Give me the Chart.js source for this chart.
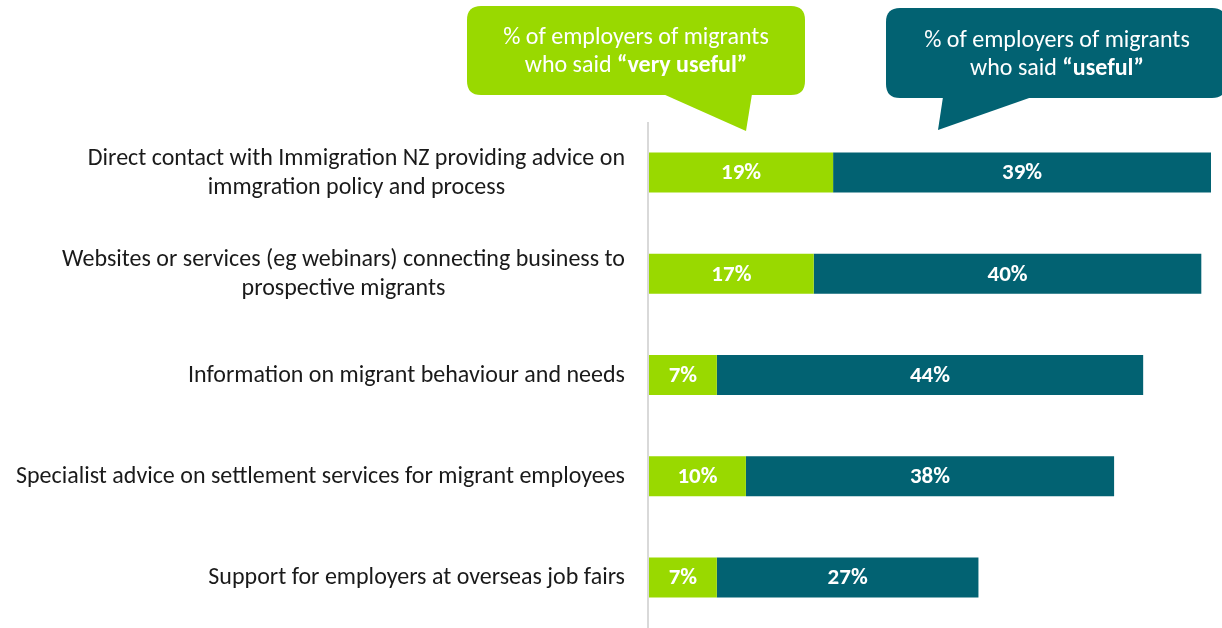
<!DOCTYPE html>
<html>
<head>
<meta charset="utf-8">
<script src="https://cdn.jsdelivr.net/npm/chart.js"></script>
<style>
  html, body { margin: 0; padding: 0; background: #fff; }
  #wrap { width: 1222px; height: 628px; position: relative; }
</style>
</head>
<body>
<div id="wrap"><canvas id="usefulChart"></canvas></div>
<script>
// categories (each entry = lines of the label)
const categories = [
  ['Direct contact with Immigration NZ providing advice on', 'immgration policy and process'],
  ['Websites or services (eg webinars) connecting business to', 'prospective migrants'],
  ['Information on migrant behaviour and needs'],
  ['Specialist advice on settlement services for migrant employees'],
  ['Support for employers at overseas job fairs']
];
const veryUseful = [19, 17, 7, 10, 7];
const useful = [39, 40, 44, 38, 27];

const GREEN = '#99d900';
const TEAL = '#026272';
const FONT = 'Carlito, Lato, "Open Sans", sans-serif';

// bubble with pointer
function bubble(ctx, x1, y1, x2, y2, r, p1, tip, p2, color) {
  ctx.save();
  ctx.fillStyle = color;
  ctx.beginPath();
  ctx.moveTo(x1 + r, y1);
  ctx.lineTo(x2 - r, y1);
  ctx.quadraticCurveTo(x2, y1, x2, y1 + r);
  ctx.lineTo(x2, y2 - r);
  ctx.quadraticCurveTo(x2, y2, x2 - r, y2);
  ctx.lineTo(x1 + r, y2);
  ctx.quadraticCurveTo(x1, y2, x1, y2 - r);
  ctx.lineTo(x1, y1 + r);
  ctx.quadraticCurveTo(x1, y1, x1 + r, y1);
  ctx.closePath();
  ctx.fill();
  ctx.beginPath();
  ctx.moveTo(p1, y2 - 1);
  ctx.lineTo(tip[0], tip[1]);
  ctx.lineTo(p2, y2 - 1);
  ctx.closePath();
  ctx.fill();
  ctx.restore();
}

// text made of normal and bold parts, centred on cx
function mixedText(ctx, parts, cx, cy, size) {
  let total = 0;
  parts.forEach(p => {
    ctx.font = (p.bold ? 'bold ' : '') + size + 'px ' + FONT;
    p.w = ctx.measureText(p.t).width;
    total += p.w;
  });
  let x = cx - total / 2;
  parts.forEach(p => {
    ctx.font = (p.bold ? 'bold ' : '') + size + 'px ' + FONT;
    ctx.fillText(p.t, x, cy);
    x += p.w;
  });
}

const extras = {
  id: 'extras',
  afterDraw(chart) {
    const ctx = chart.ctx;
    const area = chart.chartArea;
    const yScale = chart.scales.y;

    // axis line
    ctx.save();
    ctx.strokeStyle = '#d9d9d9';
    ctx.lineWidth = 2;
    ctx.beginPath();
    ctx.moveTo(area.left - 1, area.top);
    ctx.lineTo(area.left - 1, area.bottom);
    ctx.stroke();

    // category labels: block right-aligned, lines centred within the block
    ctx.fillStyle = '#1a1a1a';
    ctx.font = '24px ' + FONT;
    ctx.textAlign = 'center';
    ctx.textBaseline = 'middle';
    categories.forEach((lines, i) => {
      const widest = Math.max(...lines.map(l => ctx.measureText(l).width));
      const cx = 625 - widest / 2;
      const cy = yScale.getPixelForValue(i);
      const lh = 29;
      lines.forEach((l, j) => {
        ctx.fillText(l, cx, cy + 1 + (j - (lines.length - 1) / 2) * lh);
      });
    });

    // value labels inside the bars
    ctx.fillStyle = '#fff';
    ctx.font = 'bold 23px ' + FONT;
    chart.data.datasets.forEach((ds, di) => {
      chart.getDatasetMeta(di).data.forEach((bar, i) => {
        const mid = (bar.x + bar.base) / 2;
        ctx.fillText(ds.data[i] + '%', mid, bar.y + 1);
      });
    });

    // callouts
    bubble(ctx, 467, 6, 805, 95, 14, 663, [746, 131], 752, GREEN);
    bubble(ctx, 886, 8, 1226, 98, 14, 943, [938, 130], 1032, TEAL);
    ctx.fillStyle = '#fff';
    ctx.textAlign = 'left';
    mixedText(ctx, [{t: '% of employers of migrants'}], 636, 38, 24);
    mixedText(ctx, [{t: 'who said '}, {t: '\u201Cvery useful\u201D', bold: true}], 636, 66, 24);
    mixedText(ctx, [{t: '% of employers of migrants'}], 1057, 41, 24);
    mixedText(ctx, [{t: 'who said '}, {t: '\u201Cuseful\u201D', bold: true}], 1057, 69, 24);
    ctx.restore();
  }
};

new Chart(document.getElementById('usefulChart'), {
  type: 'bar',
  data: {
    labels: categories.map(c => c.join(' ')),
    datasets: [
      { label: 'very useful', data: veryUseful, backgroundColor: GREEN },
      { label: 'useful', data: useful, backgroundColor: TEAL }
    ]
  },
  options: {
    indexAxis: 'y',
    responsive: true,
    maintainAspectRatio: false,
    animation: false,
    layout: { padding: { left: 649, right: 11, top: 122, bottom: 0 } },
    categoryPercentage: 1,
    barPercentage: 0.395,
    scales: {
      x: { stacked: true, min: 0, max: 58, display: false },
      y: { stacked: true, display: false }
    },
    plugins: {
      legend: { display: false },
      tooltip: { enabled: false }
    }
  },
  plugins: [extras]
});
</script>
</body>
</html>
